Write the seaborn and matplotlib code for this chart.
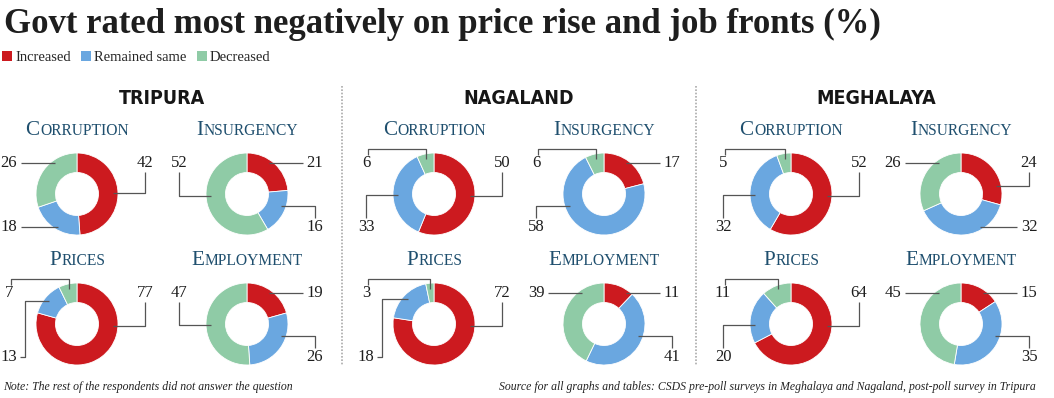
import numpy as np
import matplotlib
matplotlib.use("Agg")
import matplotlib.pyplot as plt
from matplotlib import font_manager as fm
import seaborn as sns
from matplotlib.patches import Patch

# ---- data (percent of respondents) ----
states = ['TRIPURA', 'NAGALAND', 'MEGHALAYA']
issues = ['Corruption', 'Insurgency', 'Prices', 'Employment']
responses = ['Increased', 'Remained same', 'Decreased']

tripura = [[42, 18, 26], [21, 16, 52], [77, 13, 7], [19, 26, 47]]
nagaland = [[50, 33, 6], [17, 58, 6], [72, 18, 3], [11, 41, 39]]
meghalaya = [[52, 32, 5], [24, 32, 26], [64, 20, 11], [15, 35, 45]]
state_values = [tripura, nagaland, meghalaya]

# label placement: kind (s=straight, e=elbow, k=knee, h=hook), side (L/R), row (T/B)
tripura_lab = [['eRT', 'sLB', 'sLT'], ['sRT', 'eRB', 'eLT'], ['eRT', 'kLB', 'hLT'], ['sRT', 'eRB', 'eLT']]
nagaland_lab = [['eRT', 'eLB', 'hLT'], ['sRT', 'eLB', 'hLT'], ['eRT', 'kLB', 'hLT'], ['sRT', 'eRB', 'sLT']]
meghalaya_lab = [['eRT', 'eLB', 'hLT'], ['eRT', 'sRB', 'sLT'], ['eRT', 'eLB', 'hLT'], ['sRT', 'eRB', 'sLT']]
state_labels = [tripura_lab, nagaland_lab, meghalaya_lab]

title = 'Govt rated most negatively on price rise and job fronts (%)'
note = 'Note: The rest of the respondents did not answer the question'
source = ('Source for all graphs and tables: CSDS pre-poll surveys in Meghalaya and Nagaland, '
          'post-poll survey in Tripura')

sns.set_theme(style='white')
plt.rcParams['font.family'] = ['Liberation Serif', 'DejaVu Serif']
colors = sns.color_palette(['#cc1a1f', '#6aa7e0', '#8fcba6'])

# a narrow bold sans for the state names, if one is installed
narrow = None
for f in fm.fontManager.ttflist:
    nm = f.name.lower()
    if ('narrow' in nm or 'condensed' in nm or 'condensed' in str(f.stretch)) and \
            f.style == 'normal' and f.weight in (600, 700, 'bold', 'semibold'):
        narrow = f.fname
        break
if narrow:
    state_font = fm.FontProperties(fname=narrow, size=14)
else:
    state_font = fm.FontProperties(family='DejaVu Sans', weight='bold', size=11.5)

W, H = 1054, 398
fig = plt.figure(figsize=(W / 100, H / 100), dpi=100)
ax = fig.add_axes([0, 0, 1, 1])


def fy(y):
    # pixel row from top -> data y
    return H - y


R_OUT, RING = 41, 19.5
LINE = dict(color='#555555', lw=0.9, solid_capstyle='butt')
NUM = dict(fontsize=12, color='#1e1e1e', va='center', ha='center')
sub_color = '#1f4f6e'


def ring_x(cx, cy, y, side, r):
    dy = y - cy
    return cx + side * np.sqrt(max(r * r - dy * dy, 0))


caps = []
for s, (vals_state, labs_state) in enumerate(zip(state_values, state_labels)):
    base = 77 + 357 * s
    ax.text(base + 85, fy(104), states[s], fontproperties=state_font, color='#161616',
            ha='center', va='baseline')
    for i, (vals, labs) in enumerate(zip(vals_state, labs_state)):
        cx = base + 170 * (i % 2)
        cy = 194 + 130 * (i // 2)
        word = issues[i]
        t1 = ax.text(cx, fy(cy - 59), word[0].upper(), fontsize=15.2, color=sub_color,
                     ha='left', va='baseline')
        t2 = ax.text(cx, fy(cy - 59), word[1:].upper(), fontsize=11.2, color=sub_color,
                     ha='left', va='baseline')
        caps.append((cx, t1, t2))

        ax.pie(vals, colors=colors, radius=R_OUT, center=(cx, fy(cy)),
               startangle=90, counterclock=False,
               wedgeprops=dict(width=RING, edgecolor='white', linewidth=0.6))

        fr = np.array(vals, dtype=float) / sum(vals)
        cum = np.concatenate([[0], np.cumsum(fr)])
        for j, v in enumerate(vals):
            kind, sd, row = labs[j]
            side = -1 if sd == 'L' else 1
            t_mid = 2 * np.pi * (cum[j] + fr[j] / 2)  # clockwise from top
            ax_x = cx + 36 * np.sin(t_mid)
            ax_y = cy - 36 * np.cos(t_mid)
            lx = cx + side * 68
            ly = cy - 31 if row == 'T' else cy + 33
            hw = 4.5 * len(str(v))
            hh = 6
            if kind == 's':
                xs = [lx - side * (hw + 3), ring_x(cx, cy, ly, side, 38)]
                ys = [ly, ly]
            elif kind == 'e':
                lo, hi = (-8, 2) if row == 'T' else (1, 12)
                yh = cy + np.clip(ax_y - cy, lo, hi)
                ys0 = ly + np.sign(yh - ly) * (hh + 3)
                xs = [lx, lx, ring_x(cx, cy, yh, side, 36)]
                ys = [ys0, yh, yh]
            elif kind == 'k':
                xc = cx + side * 52
                xs = [lx - side * (hw + 2), xc, xc, ax_x]
                ys = [ly, ly, ax_y, ax_y]
            else:  # hook over the top
                hy = cy - R_OUT - 4
                xs = [lx + 2, lx + 2, ax_x, ax_x]
                ys = [ly - hh - 2, hy, hy, cy - R_OUT + 6]
            ax.plot(xs, [fy(y) for y in ys], **LINE)
            ax.text(lx, fy(ly), str(v), **NUM)

# separators between states
for x in (342, 696):
    ax.plot([x, x], [fy(86), fy(365)], color='#aaaaaa', lw=1.2, linestyle=(0, (1, 1)))

# title, legend, footers
ax.text(4, fy(33), title, fontsize=25, fontweight='bold', color='#1e1e1e',
        ha='left', va='baseline')
handles = [Patch(facecolor=c, edgecolor='none') for c in colors]
ax.legend(handles, responses, loc='upper left', bbox_to_anchor=(0.002, fy(51) / H),
          ncol=3, frameon=False, fontsize=10.5, handlelength=0.7, handleheight=0.7,
          handletextpad=0.2, columnspacing=0.7, borderaxespad=0, borderpad=0)
ax.text(3, fy(387), note, fontsize=8.5, style='italic', color='#222222', ha='left', va='center')
ax.text(1036, fy(387), source, fontsize=8.5, style='italic', color='#222222',
        ha='right', va='center')

ax.set_xlim(0, W)
ax.set_ylim(0, H)
ax.set_aspect('auto')
ax.axis('off')

# centre the small-caps subtitles
renderer = fig.canvas.get_renderer()
for cx, t1, t2 in caps:
    w1 = t1.get_window_extent(renderer).width
    w2 = t2.get_window_extent(renderer).width
    x0 = cx - (w1 + w2) / 2
    t1.set_x(x0)
    t2.set_x(x0 + w1 + 0.5)

fig.savefig('out.png', dpi=100, facecolor='white')
